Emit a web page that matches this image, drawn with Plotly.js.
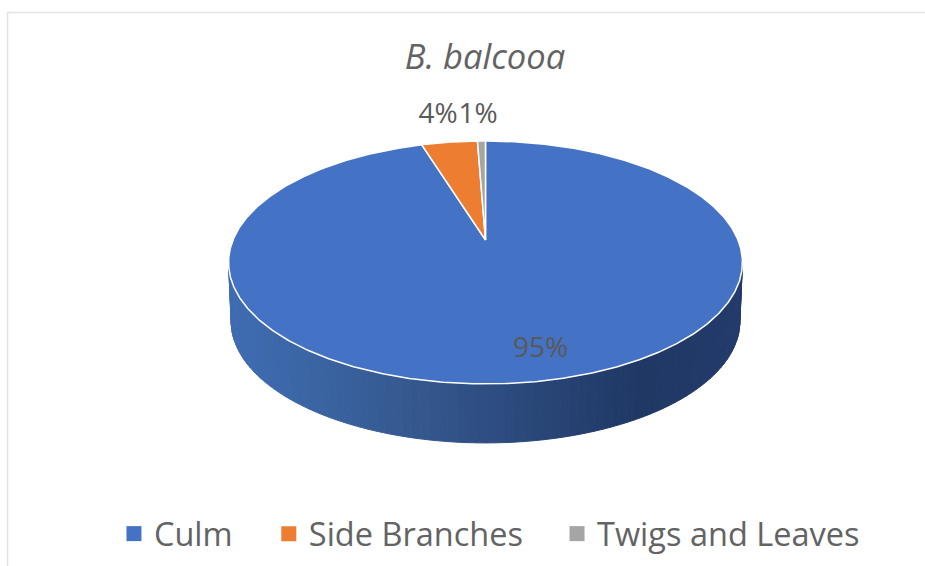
<!DOCTYPE html>
<html>
<head>
<meta charset="utf-8">
<script src="https://cdn.plot.ly/plotly-3.0.1.min.js"></script>
<style>html,body{margin:0;padding:0;background:#fff}#chart{width:925px;height:566px}</style>
</head>
<body>
<div id="chart"></div>
<script>
// Data
const categories = ['Culm', 'Side Branches', 'Twigs and Leaves'];
const shares = [95.2, 4.2, 0.6];
const sliceColors = ['#4472C4', '#ED7D31', '#A5A5A5'];
const chartTitle = '<i>B. balcooa</i>';

// Perspective disc geometry (pixels)
const apex = {x: 485.5, y: 240};
const tilt = 0.185, depthScale = 117.3, widthScale = 252.5;
const wallDepth = 59, wallShrink = 0.99;
const labelPos = [[540.5, 350], [438, 116], [478, 116]];
const wallStops = [[0, '#3F6BB2'], [0.1, '#3C68AA'], [0.35, '#35598F'], [0.55, '#2C4A7D'], [0.8, '#1F3864'], [1, '#223B6B']];

function rim(deg, f) {
  const t = deg * Math.PI / 180, w = 1 + tilt * f * Math.cos(t);
  return [apex.x + widthScale * f * Math.sin(t) / w, apex.y - depthScale * f * Math.cos(t) / w];
}
function hex(c) { return [1, 3, 5].map(i => parseInt(c.substr(i, 2), 16)); }
function wallColor(p) {
  for (let i = 1; i < wallStops.length; i++) {
    if (p <= wallStops[i][0]) {
      const a = wallStops[i - 1], b = wallStops[i], k = (p - a[0]) / (b[0] - a[0]);
      const ca = hex(a[1]), cb = hex(b[1]);
      return 'rgb(' + ca.map((v, j) => Math.round(v + (cb[j] - v) * k)).join(',') + ')';
    }
  }
  return wallStops[wallStops.length - 1][1];
}

const total = shares.reduce((a, b) => a + b, 0);
const traces = [];

// Wall of the disc: the front half of the rim, dropped by the disc's depth
const sideAngle = Math.acos(-tilt) * 180 / Math.PI;
const segs = 90;
for (let i = 0; i < segs; i++) {
  const a0 = sideAngle + (360 - 2 * sideAngle) * i / segs;
  const a1 = sideAngle + (360 - 2 * sideAngle) * (i + 1) / segs;
  const xs = [], ys = [];
  for (const a of [a0, a1]) { const p = rim(a, 1); xs.push(p[0]); ys.push(p[1]); }
  for (const a of [a1, a0]) {
    const p = rim(a, 1);
    xs.push(apex.x + (p[0] - apex.x) * wallShrink); ys.push(p[1] + wallDepth);
  }
  xs.push(xs[0]); ys.push(ys[0]);
  // a0 runs from the right side of the disc to the left, so the colour follows screen x
  const across = Math.min(1, Math.max(0, ((xs[0] + xs[1]) / 2 - 228) / 515));
  const col = wallColor(across);
  traces.push({x: xs, y: ys, mode: 'lines', fill: 'toself', fillcolor: col,
    line: {color: col, width: 1}, hoverinfo: 'skip', showlegend: false});
}

// Top face: one filled wedge per category
let run = 0;
shares.forEach((s, k) => {
  const d0 = run / total * 360, d1 = (run + s) / total * 360;
  run += s;
  const xs = [apex.x], ys = [apex.y];
  const n = Math.max(2, Math.ceil(d1 - d0) * 2);
  for (let i = 0; i <= n; i++) {
    const p = rim(d0 + (d1 - d0) * i / n, 1);
    xs.push(p[0]); ys.push(p[1]);
  }
  xs.push(apex.x); ys.push(apex.y);
  traces.push({x: xs, y: ys, mode: 'lines', fill: 'toself', fillcolor: sliceColors[k],
    line: {color: '#FFFFFF', width: 1.5}, name: categories[k], hoverinfo: 'name', showlegend: false});
});

// Percent labels
traces.push({x: labelPos.map(p => p[0]), y: labelPos.map(p => p[1]), mode: 'text',
  text: shares.map(s => Math.round(s / total * 100) + '%'),
  textposition: 'middle center',
  textfont: {family: 'Open Sans, sans-serif', size: 28, color: '#595959'},
  hoverinfo: 'skip', showlegend: false});

// One native legend per category, so each entry can sit where the reference has it
const legendX = [0.1232, 0.2906, 0.6022];
const legendNames = ['legend', 'legend2', 'legend3'];
categories.forEach((c, k) => {
  traces.push({x: [null], y: [null], mode: 'markers', name: c, legend: legendNames[k],
    marker: {symbol: 'square', size: 15, color: sliceColors[k]}, showlegend: true, hoverinfo: 'skip'});
});

const layout = {
  width: 925, height: 566,
  margin: {l: 0, r: 0, t: 0, b: 0},
  paper_bgcolor: '#FFFFFF', plot_bgcolor: '#FFFFFF',
  title: {text: chartTitle, x: 485 / 925, xanchor: 'center', y: 1 - 57 / 566, yanchor: 'middle',
    font: {family: 'Open Sans, sans-serif', size: 34.5, color: '#636363'}},
  xaxis: {range: [0, 925], visible: false, fixedrange: true},
  yaxis: {range: [566, 0], visible: false, fixedrange: true},
  shapes: [
    {type: 'line', xref: 'x', yref: 'y', x0: 7, x1: 925, y0: 12.5, y1: 12.5, line: {color: '#E4E4E4', width: 1.5}},
    {type: 'line', xref: 'x', yref: 'y', x0: 7.5, x1: 7.5, y0: 12, y1: 566, line: {color: '#E4E4E4', width: 1.5}}
  ]
};
legendNames.forEach((n, k) => {
  layout[n] = {orientation: 'h', x: legendX[k], xanchor: 'left', y: 1 - 534 / 566, yanchor: 'middle',
    bgcolor: 'rgba(0,0,0,0)', itemsizing: 'trace',
    font: {family: 'Open Sans, sans-serif', size: 32.5, color: '#636363'}};
});

Plotly.newPlot('chart', traces, layout, {displayModeBar: false, responsive: false});
</script>
</body>
</html>
